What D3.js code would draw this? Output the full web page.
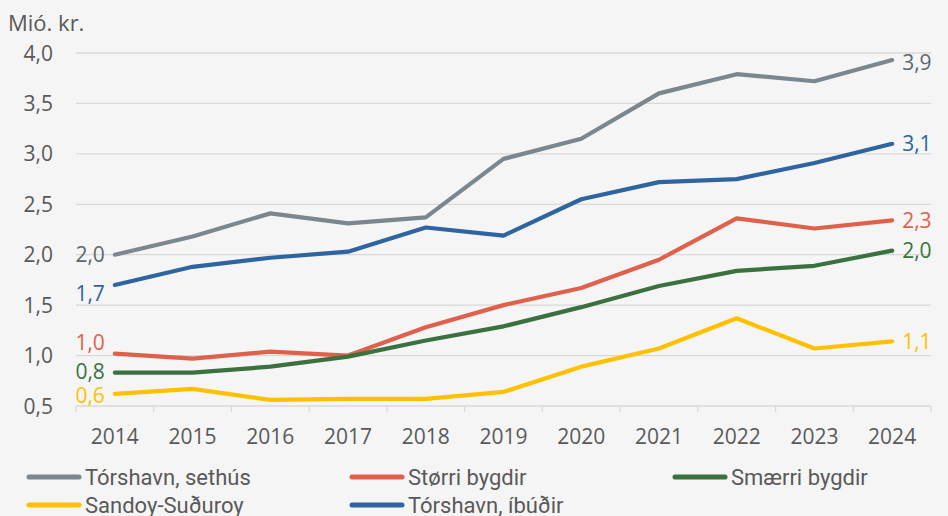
<!DOCTYPE html>
<html lang="fo">
  <head>
    <meta charset="utf-8" />
    <title>Mió. kr.</title>
    <script src="https://cdnjs.cloudflare.com/ajax/libs/d3/7.8.5/d3.min.js"></script>
    <style>
      body {
        margin: 0;
        background-color: #f5f5f5;
        font-family: "Open Sans", sans-serif;
      }
      .grid line {
        stroke: #d9d9d9;
        stroke-width: 1.3px;
      }
      .tick-label {
        fill: #595959;
        font-size: 21px;
      }
      .legend text {
        fill: #595959;
        font-family: "Roboto", sans-serif;
        font-size: 22px;
      }
    </style>
  </head>
  <body>
    <svg id="chart" width="948" height="516"></svg>

    <script>
      const years = ["2014", "2015", "2016", "2017", "2018", "2019", "2020", "2021", "2022", "2023", "2024"];
      const yTicks = [0.5, 1.0, 1.5, 2.0, 2.5, 3.0, 3.5, 4.0];

      const seriesNames = ["Tórshavn, sethús", "Størri bygdir", "Smærri bygdir", "Sandoy-Suðuroy", "Tórshavn, íbúðir"];
      const seriesColors = ["#7a878f", "#e0614b", "#3b713f", "#ffc000", "#2e64a0"];
      const labelColors = ["#5f676c", "#e0614b", "#3b713f", "#ffc000", "#2e64a0"];

      const torshavnSethus = [2.0, 2.18, 2.41, 2.31, 2.37, 2.95, 3.15, 3.6, 3.79, 3.72, 3.93];
      const storriBygdir = [1.02, 0.97, 1.04, 1.0, 1.28, 1.5, 1.67, 1.95, 2.36, 2.26, 2.34];
      const smaerriBygdir = [0.83, 0.83, 0.89, 0.99, 1.15, 1.29, 1.48, 1.69, 1.84, 1.89, 2.04];
      const sandoySuduroy = [0.62, 0.67, 0.56, 0.57, 0.57, 0.64, 0.89, 1.07, 1.37, 1.07, 1.14];
      const torshavnIbudir = [1.7, 1.88, 1.97, 2.03, 2.27, 2.19, 2.55, 2.72, 2.75, 2.91, 3.1];

      const allSeries = [torshavnSethus, storriBygdir, smaerriBygdir, sandoySuduroy, torshavnIbudir];

      // label offsets (vertical) for first/last point labels
      const startDy = [0, -11, -1, 2, 8];
      const endDy = [2, 0, 0, 0, 0];

      const fmt = (v) => d3.format(".1f")(v).replace(".", ",");

      const svg = d3.select("#chart");
      const plotLeft = 76, plotRight = 931, plotTop = 53, plotBottom = 406;

      const x = d3.scaleBand().domain(years).range([plotLeft, plotRight]);
      const y = d3.scaleLinear().domain([0.5, 4.0]).range([plotBottom, plotTop]);

      // gridlines
      svg.append("g")
        .attr("class", "grid")
        .selectAll("line")
        .data(yTicks)
        .join("line")
        .attr("x1", plotLeft)
        .attr("x2", plotRight)
        .attr("y1", (d) => y(d))
        .attr("y2", (d) => y(d));

      // category tick marks
      svg.append("g")
        .attr("class", "grid")
        .selectAll("line")
        .data(years.concat(["end"]))
        .join("line")
        .attr("x1", (d, i) => plotLeft + i * x.step())
        .attr("x2", (d, i) => plotLeft + i * x.step())
        .attr("y1", plotBottom)
        .attr("y2", plotBottom + 6);

      // y labels
      svg.append("g")
        .selectAll("text")
        .data(yTicks)
        .join("text")
        .attr("class", "tick-label")
        .attr("x", 53)
        .attr("y", (d) => y(d))
        .attr("dy", "0.36em")
        .attr("text-anchor", "end")
        .text((d) => fmt(d));

      // x labels
      svg.append("g")
        .selectAll("text")
        .data(years)
        .join("text")
        .attr("class", "tick-label")
        .attr("x", (d) => x(d) + x.bandwidth() / 2)
        .attr("y", 444)
        .attr("text-anchor", "middle")
        .text((d) => d);

      svg.append("text")
        .attr("class", "tick-label")
        .attr("x", 8)
        .attr("y", 31)
        .style("font-size", "22px")
        .text("Mió. kr.");

      const line = d3.line()
        .x((d, i) => x(years[i]) + x.bandwidth() / 2)
        .y((d) => y(d));

      allSeries.forEach((vals, s) => {
        svg.append("path")
          .datum(vals)
          .attr("fill", "none")
          .attr("stroke", seriesColors[s])
          .attr("stroke-width", 4.2)
          .attr("stroke-linecap", "round")
          .attr("stroke-linejoin", "round")
          .attr("d", line);
      });

      // start / end labels
      allSeries.forEach((vals, s) => {
        const last = vals.length - 1;
        svg.append("text")
          .attr("x", x(years[0]) + x.bandwidth() / 2 - 10)
          .attr("y", y(vals[0]) + startDy[s])
          .attr("dy", "0.36em")
          .attr("text-anchor", "end")
          .attr("fill", labelColors[s])
          .style("font-size", "21px")
          .text(fmt(vals[0]));
        svg.append("text")
          .attr("x", x(years[last]) + x.bandwidth() / 2 + 10)
          .attr("y", y(vals[last]) + endDy[s])
          .attr("dy", "0.36em")
          .attr("text-anchor", "start")
          .attr("fill", labelColors[s])
          .style("font-size", "21px")
          .text(fmt(vals[last]));
      });

      // legend
      const legendPos = [[27, 477], [350, 477], [673, 477], [27, 505], [350, 505]];
      const legend = svg.append("g").attr("class", "legend");
      seriesNames.forEach((name, s) => {
        const [lx, ly] = legendPos[s];
        legend.append("line")
          .attr("x1", lx + 2)
          .attr("x2", lx + 52)
          .attr("y1", ly)
          .attr("y2", ly)
          .attr("stroke", seriesColors[s])
          .attr("stroke-width", 5)
          .attr("stroke-linecap", "round");
        legend.append("text")
          .attr("x", lx + 58)
          .attr("y", ly)
          .attr("dy", "0.36em")
          .text(name);
      });
    </script>
  </body>
</html>
